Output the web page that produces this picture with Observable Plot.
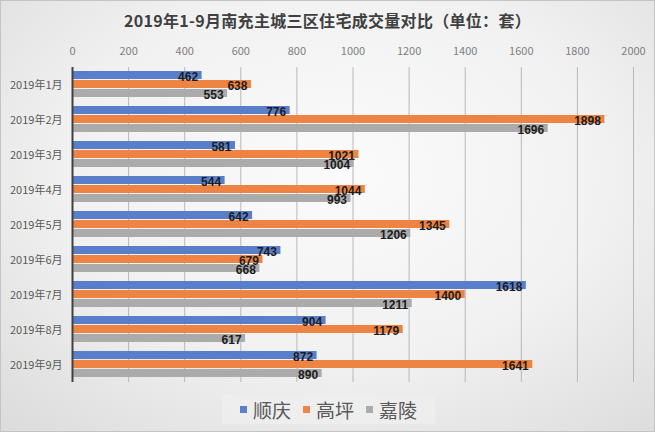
<!DOCTYPE html>
<html>
<head>
<meta charset="utf-8">
<script src="https://cdn.jsdelivr.net/npm/d3@7"></script>
<script src="https://cdn.jsdelivr.net/npm/@observablehq/plot@0.6"></script>
<style>
  html, body { margin: 0; padding: 0; }
  #wrap {
    width: 655px; height: 432px; box-sizing: border-box;
    border: 1px solid #c4c4c4;
    background: radial-gradient(ellipse 75% 80% at 52% 40%, #fbfbfb 0%, #f1f1f1 55%, #dcdcdc 100%);
    font-family: "Noto Sans CJK SC", "Liberation Sans", sans-serif;
    position: relative; overflow: hidden;
  }
  #title {
    height: 39px; line-height: 38px; text-align: center;
    font-size: 16px; font-weight: bold; color: #404040; letter-spacing: 0.3px;
  }
  #legend {
    position: absolute; left: 221px; top: 394px; width: 213px; height: 29px;
    background: rgba(240,240,240,0.7);
    display: flex; align-items: center; justify-content: center; gap: 0;
    font-size: 19px; color: #595959;
  }
  .item { display: flex; align-items: center; margin: 0 6px; }
  .sw { width: 7px; height: 7px; margin-right: 6px; }
</style>
</head>
<body>
<div id="wrap">
  <div id="title">2019年1-9月南充主城三区住宅成交量对比（单位：套）</div>
  <div id="chart"></div>
  <div id="legend"></div>
</div>
<script>
const months = ["2019年1月","2019年2月","2019年3月","2019年4月","2019年5月","2019年6月","2019年7月","2019年8月","2019年9月"];
const seriesNames = ["顺庆","高坪","嘉陵"];
const shunqing = [462, 776, 581, 544, 642, 743, 1618, 904, 872];
const gaoping  = [638, 1898, 1021, 1044, 1345, 679, 1400, 1179, 1641];
const jialing  = [553, 1696, 1004, 993, 1206, 668, 1211, 617, 890];
const xTicks = [0,200,400,600,800,1000,1200,1400,1600,1800,2000];
const colors = ["#5a7fca", "#ee8443", "#ababab"];

const values = [shunqing, gaoping, jialing];
const data = [];
months.forEach((m, i) => {
  seriesNames.forEach((s, j) => data.push({month: m, series: s, value: values[j][i]}));
});

const plot = Plot.plot({
  width: 653,
  height: 350,
  marginTop: 24,
  marginBottom: 5,
  marginLeft: 71,
  marginRight: 21,
  style: {background: "transparent", fontFamily: "'Noto Sans CJK SC', 'Liberation Sans', sans-serif"},
  x: {domain: [0, 2000], ticks: xTicks, label: null},
  y: {domain: seriesNames, axis: null, paddingInner: 0.07, paddingOuter: 0.32},
  fy: {domain: months, padding: 0, label: null},
  color: {domain: seriesNames, range: colors},
  marks: [
    Plot.gridX(xTicks.filter(t => t > 0), {stroke: "#b8b8b8", strokeOpacity: 1, strokeWidth: 1}),
    Plot.axisX({anchor: "top", ticks: xTicks, tickSize: 0, tickPadding: 13, fontSize: 11, fill: "#808080", label: null, tickFormat: d => String(d)}),
    Plot.axisFy({anchor: "left", tickSize: 0, tickPadding: 10, fontSize: 11, fill: "#5a5a5a", label: null}),
    Plot.barX(data, {x: "value", y: "series", fy: "month", fill: "series"}),
    Plot.text(data, {x: "value", y: "series", fy: "month", text: d => String(d.value), textAnchor: "end", dx: -4, dy: 2,
      fontSize: 12, fontWeight: "bold", fill: "#1c1c1c", fontFamily: "'Liberation Sans', sans-serif"}),
    Plot.ruleX([0], {stroke: "#404040", strokeWidth: 2})
  ]
});
document.getElementById("chart").appendChild(plot);

const legend = document.getElementById("legend");
seriesNames.forEach((s, i) => {
  const it = document.createElement("div");
  it.className = "item";
  it.innerHTML = `<span class="sw" style="background:${colors[i]}"></span><span>${s}</span>`;
  legend.appendChild(it);
});
</script>
</body>
</html>
